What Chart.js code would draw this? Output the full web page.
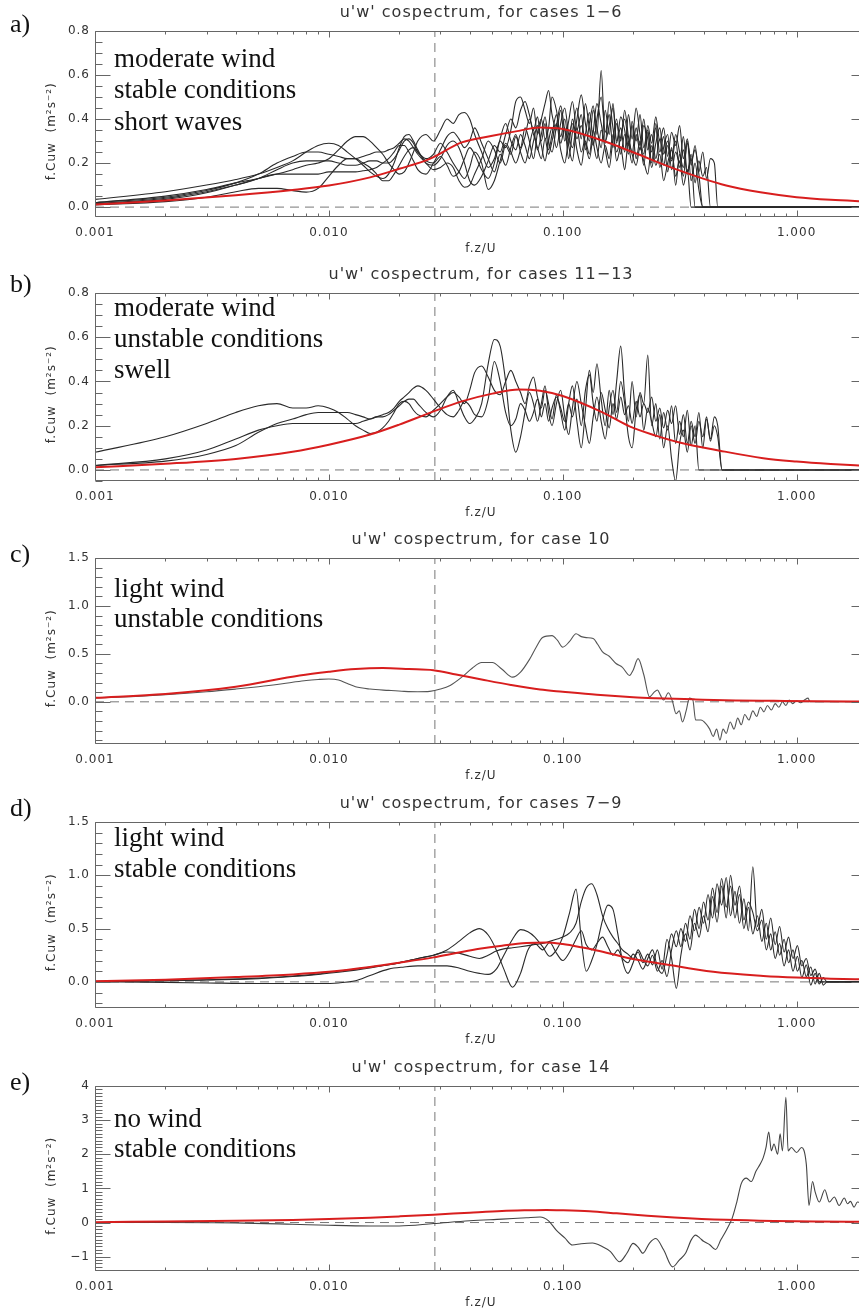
<!DOCTYPE html>
<html>
<head>
<meta charset="utf-8">
<script src="https://cdn.jsdelivr.net/npm/chart.js@4.4.0/dist/chart.umd.min.js"></script>
<style>
  body { margin: 0; width: 859px; height: 1310px; overflow: hidden; background: #fff; position: relative; }
  .panel { position: absolute; left: 0; }
</style>
</head>
<body>
<script>
// frequency of the dashed vertical marker, and axis ticks
const refFreq = 0.0284;
const xTicks = [0.001, 0.01, 0.1, 1];
const yTicksAB = [0, 0.2, 0.4, 0.6, 0.8];
const yTicksCD = [0, 0.5, 1.0, 1.5];
const yTicksE = [-1, 0, 1, 2, 3, 4];

// panels a) and b) share one frequency list
const freqAB = [
  0.001, 0.002, 0.003, 0.004, 0.005, 0.006, 0.007, 0.008, 0.009, 0.010,
  0.011, 0.012, 0.013, 0.014, 0.015, 0.016, 0.017, 0.018, 0.019, 0.020,
  0.021, 0.022, 0.023, 0.024, 0.026, 0.028, 0.030, 0.032, 0.034, 0.036,
  0.038, 0.040, 0.042, 0.045, 0.048, 0.051, 0.054, 0.057, 0.060, 0.063,
  0.066, 0.069, 0.072, 0.075, 0.078, 0.081, 0.084, 0.087, 0.090, 0.094,
  0.098, 0.102, 0.106, 0.110, 0.115, 0.120, 0.125, 0.130, 0.135, 0.140,
  0.146, 0.152, 0.158, 0.164, 0.170, 0.177, 0.184, 0.191, 0.198, 0.206,
  0.214, 0.222, 0.231, 0.240, 0.250, 0.260, 0.270, 0.281, 0.292, 0.304,
  0.316, 0.328, 0.341, 0.354, 0.368, 0.382, 0.397, 0.412, 0.428, 0.445,
  0.460, 0.480, 2.0
];

// a) cases 1-6
const caseA1 = [
  0.035, 0.07, 0.10, 0.125, 0.15, 0.18, 0.21, 0.25, 0.28, 0.29,
  0.28, 0.25, 0.22, 0.19, 0.16, 0.14, 0.13, 0.15, 0.20, 0.27,
  0.32, 0.33, 0.30, 0.26, 0.20, 0.19, 0.22, 0.28, 0.30, 0.27,
  0.20, 0.12, 0.10, 0.14, 0.21, 0.28, 0.25, 0.33, 0.40, 0.36,
  0.44, 0.48, 0.42, 0.35, 0.41, 0.30, 0.38, 0.26, 0.33, 0.42,
  0.29, 0.36, 0.22, 0.34, 0.45, 0.31, 0.47, 0.36, 0.28, 0.40,
  0.50, 0.34, 0.42, 0.27, 0.38, 0.30, 0.44, 0.32, 0.25, 0.36,
  0.28, 0.40, 0.26, 0.33, 0.22, 0.31, 0.19, 0.28, 0.21, 0.30,
  0.18, 0.26, 0.15, 0.22, 0, 0, 0, 0, 0, 0,
  0, 0, 0
];
const caseA2 = [
  0.02, 0.05, 0.08, 0.11, 0.13, 0.15, 0.17, 0.19, 0.20, 0.22,
  0.26, 0.30, 0.32, 0.32, 0.30, 0.27, 0.24, 0.20, 0.17, 0.15,
  0.16, 0.20, 0.25, 0.30, 0.33, 0.30, 0.35, 0.40, 0.38, 0.42,
  0.43, 0.40, 0.33, 0.25, 0.18, 0.22, 0.30, 0.27, 0.35, 0.48,
  0.50, 0.44, 0.38, 0.45, 0.33, 0.40, 0.47, 0.53, 0.42, 0.35,
  0.44, 0.30, 0.39, 0.48, 0.35, 0.42, 0.26, 0.38, 0.46, 0.33,
  0.62, 0.30, 0.37, 0.45, 0.29, 0.41, 0.35, 0.24, 0.39, 0.30,
  0.42, 0.27, 0.35, 0.20, 0.38, 0.25, 0.32, 0.16, 0.27, 0.10,
  0.24, 0.14, 0.30, 0.12, 0.20, 0.08, 0, 0, 0, 0,
  0, 0, 0
];
const caseA3 = [
  0.02, 0.045, 0.075, 0.11, 0.15, 0.20, 0.23, 0.25, 0.25, 0.24,
  0.23, 0.22, 0.22, 0.23, 0.24, 0.25, 0.25, 0.26, 0.27, 0.29,
  0.31, 0.30, 0.27, 0.24, 0.20, 0.17, 0.18, 0.20, 0.18, 0.12,
  0.09, 0.10, 0.15, 0.22, 0.30, 0.26, 0.20, 0.28, 0.24, 0.32,
  0.27, 0.36, 0.30, 0.22, 0.34, 0.40, 0.31, 0.36, 0.50, 0.44,
  0.32, 0.40, 0.28, 0.21, 0.36, 0.25, 0.33, 0.43, 0.30, 0.22,
  0.35, 0.26, 0.18, 0.31, 0.40, 0.24, 0.33, 0.28, 0.37, 0.22,
  0.30, 0.19, 0.34, 0.25, 0.36, 0.18, 0.27, 0.33, 0.17, 0.25,
  0.20, 0.32, 0.16, 0.24, 0.11, 0.21, 0.14, 0.18, 0, 0,
  0, 0, 0
];
const caseA4 = [
  0.015, 0.04, 0.07, 0.10, 0.13, 0.17, 0.20, 0.21, 0.21, 0.21,
  0.20, 0.19, 0.19, 0.20, 0.21, 0.21, 0.20, 0.20, 0.22, 0.26,
  0.30, 0.31, 0.29, 0.25, 0.21, 0.20, 0.23, 0.19, 0.14, 0.16,
  0.22, 0.27, 0.24, 0.17, 0.13, 0.20, 0.31, 0.38, 0.30, 0.26,
  0.33, 0.28, 0.22, 0.30, 0.37, 0.28, 0.21, 0.30, 0.36, 0.27,
  0.38, 0.45, 0.33, 0.27, 0.40, 0.51, 0.38, 0.30, 0.44, 0.36,
  0.27, 0.44, 0.33, 0.47, 0.30, 0.36, 0.25, 0.42, 0.31, 0.45,
  0.33, 0.24, 0.37, 0.29, 0.41, 0.30, 0.36, 0.23, 0.34, 0.28,
  0.37, 0.22, 0.31, 0.19, 0.28, 0.16, 0.25, 0.13, 0.22, 0.20,
  0, 0, 0
];
const caseA5 = [
  0.012, 0.035, 0.065, 0.10, 0.13, 0.15, 0.15, 0.15, 0.15, 0.16,
  0.16, 0.16, 0.16, 0.165, 0.17, 0.18, 0.20, 0.22, 0.25, 0.28,
  0.28, 0.25, 0.21, 0.17, 0.15, 0.20, 0.26, 0.32, 0.34, 0.31,
  0.27, 0.30, 0.36, 0.29, 0.22, 0.16, 0.24, 0.19, 0.27, 0.33,
  0.25, 0.20, 0.28, 0.35, 0.26, 0.33, 0.41, 0.30, 0.25, 0.37,
  0.46, 0.35, 0.28, 0.40, 0.31, 0.37, 0.29, 0.22, 0.34, 0.47,
  0.38, 0.29, 0.48, 0.36, 0.25, 0.32, 0.40, 0.29, 0.20, 0.33,
  0.26, 0.37, 0.31, 0.18, 0.29, 0.36, 0.24, 0.30, 0.22, 0.33,
  0.25, 0.18, 0.29, 0.21, 0.26, 0.15, 0, 0, 0, 0,
  0, 0, 0
];
const caseA6 = [
  0.01, 0.025, 0.045, 0.07, 0.085, 0.085, 0.075, 0.068, 0.085, 0.14,
  0.19, 0.22, 0.22, 0.20, 0.18, 0.15, 0.12, 0.12, 0.15, 0.19,
  0.23, 0.26, 0.27, 0.25, 0.22, 0.24, 0.29, 0.25, 0.20, 0.16,
  0.13, 0.18, 0.25, 0.20, 0.08, 0.12, 0.21, 0.29, 0.25, 0.20,
  0.26, 0.32, 0.40, 0.33, 0.27, 0.22, 0.31, 0.24, 0.30, 0.38,
  0.26, 0.20, 0.31, 0.38, 0.26, 0.19, 0.30, 0.24, 0.35, 0.27,
  0.20, 0.28, 0.22, 0.33, 0.21, 0.27, 0.17, 0.30, 0.24, 0.19,
  0.27, 0.21, 0.15, 0.28, 0.19, 0.24, 0.12, 0.20, 0.26, 0.14,
  0.21, 0.10, 0.17, 0, 0, 0, 0, 0, 0, 0,
  0, 0, 0
];
const modelXA = [0.001, 0.002, 0.004, 0.007, 0.01, 0.015, 0.02, 0.027, 0.037, 0.05, 0.063, 0.08, 0.1, 0.15, 0.2, 0.3, 0.5, 0.7, 1.0, 1.4, 2.0];
const modelYA = [0.012, 0.03, 0.054, 0.078, 0.098, 0.135, 0.174, 0.219, 0.294, 0.324, 0.344, 0.362, 0.355, 0.30, 0.249, 0.175, 0.098, 0.067, 0.045, 0.033, 0.025];

// b) cases 11-13
const caseB1 = [
  0.08, 0.15, 0.21, 0.26, 0.29, 0.30, 0.28, 0.28, 0.29, 0.28,
  0.26, 0.23, 0.20, 0.18, 0.165, 0.17, 0.19, 0.22, 0.26, 0.30,
  0.31, 0.30, 0.27, 0.25, 0.24, 0.27, 0.30, 0.33, 0.35, 0.33,
  0.30, 0.36, 0.44, 0.47, 0.42, 0.36, 0.34, 0.40, 0.45, 0.40,
  0.35, 0.30, 0.38, 0.42, 0.33, 0.28, 0.36, 0.30, 0.23, 0.34,
  0.26, 0.18, 0.30, 0.38, 0.22, 0.10, 0.27, 0.45, 0.35, 0.48,
  0.32, 0.20, 0.36, 0.25, 0.40, 0.56, 0.34, 0.22, 0.40, 0.24,
  0.35, 0.30, 0.52, 0.20, 0.30, 0.14, 0.26, 0.18, 0.29, 0.12,
  0.22, 0.15, 0.27, 0.11, 0.20, 0, 0, 0, 0, 0,
  0, 0, 0
];
const caseB2 = [
  0.02, 0.05, 0.09, 0.14, 0.18, 0.20, 0.21, 0.21, 0.21, 0.21,
  0.21, 0.21, 0.21, 0.22, 0.23, 0.24, 0.24, 0.25, 0.27, 0.29,
  0.31, 0.32, 0.32, 0.30, 0.26, 0.24, 0.27, 0.33, 0.36, 0.30,
  0.24, 0.21, 0.23, 0.30, 0.48, 0.59, 0.56, 0.40, 0.18, 0.08,
  0.15, 0.26, 0.35, 0.30, 0.22, 0.30, 0.38, 0.26, 0.20, 0.30,
  0.36, 0.24, 0.16, 0.28, 0.40, 0.30, 0.20, 0.12, 0.24, 0.33,
  0.22, 0.14, 0.28, 0.36, 0.26, 0.40, 0.30, 0.15, 0.10, 0.27,
  0.34, 0.18, 0.28, 0.22, 0.15, 0.25, 0.10, 0.20, 0.05, -0.05,
  0.12, 0.18, 0.08, 0.20, 0.12, 0.22, 0.15, 0.24, 0.13, 0.20,
  0.15, 0, 0
];
const caseB3 = [
  0.02, 0.04, 0.07, 0.11, 0.17, 0.21, 0.23, 0.25, 0.26, 0.26,
  0.26, 0.26, 0.25, 0.24, 0.23, 0.24, 0.25, 0.26, 0.28, 0.31,
  0.33, 0.35, 0.37, 0.38, 0.36, 0.32, 0.28, 0.25, 0.24, 0.27,
  0.31, 0.29, 0.25, 0.24, 0.32, 0.49, 0.40, 0.26, 0.20, 0.23,
  0.30, 0.27, 0.22, 0.26, 0.32, 0.24, 0.30, 0.22, 0.28, 0.33,
  0.28, 0.22, 0.30, 0.24, 0.32, 0.20, 0.36, 0.43, 0.30, 0.22,
  0.35, 0.27, 0.19, 0.30, 0.23, 0.33, 0.25, 0.29, 0.21, 0.31,
  0.24, 0.30, 0.26, 0.33, 0.22, 0.28, 0.19, 0.27, 0.21, 0.29,
  0.16, 0.25, 0.12, 0.22, 0.15, 0.26, 0.10, 0.23, 0.14, 0.24,
  0.20, 0, 0
];
const modelXB = [0.001, 0.002, 0.004, 0.007, 0.01, 0.015, 0.02, 0.027, 0.037, 0.05, 0.065, 0.08, 0.1, 0.148, 0.193, 0.25, 0.316, 0.47, 0.72, 1.0, 1.4, 2.0];
const modelYB = [0.012, 0.028, 0.05, 0.082, 0.114, 0.16, 0.205, 0.258, 0.31, 0.345, 0.364, 0.358, 0.334, 0.26, 0.197, 0.155, 0.124, 0.087, 0.053, 0.038, 0.027, 0.018];

// c) case 10
const freqC = [
  0.001, 0.0015, 0.002, 0.003, 0.004, 0.005, 0.006, 0.007, 0.008, 0.009,
  0.010, 0.011, 0.012, 0.013, 0.015, 0.018, 0.021, 0.024, 0.027, 0.030,
  0.033, 0.037, 0.041, 0.045, 0.050, 0.055, 0.061, 0.066, 0.072, 0.077,
  0.082, 0.090, 0.095, 0.100, 0.107, 0.114, 0.120, 0.126, 0.135, 0.141,
  0.148, 0.158, 0.169, 0.180, 0.193, 0.200, 0.210, 0.222, 0.235, 0.245,
  0.254, 0.262, 0.270, 0.283, 0.295, 0.305, 0.315, 0.325, 0.337, 0.348,
  0.360, 0.370, 0.390, 0.410, 0.425, 0.440, 0.455, 0.470, 0.485, 0.500,
  0.520, 0.540, 0.560, 0.580, 0.600, 0.625, 0.650, 0.675, 0.700, 0.725,
  0.750, 0.780, 0.810, 0.840, 0.870, 0.900, 0.930, 0.960, 1.000, 1.040,
  1.080, 1.120, 1.140, 2.0
];
const caseC = [
  0.041, 0.057, 0.074, 0.105, 0.133, 0.157, 0.18, 0.204, 0.223, 0.233,
  0.238, 0.228, 0.19, 0.157, 0.133, 0.119, 0.109, 0.105, 0.109, 0.133,
  0.171, 0.257, 0.35, 0.41, 0.41, 0.34, 0.257, 0.31, 0.44, 0.57,
  0.67, 0.69, 0.64, 0.57, 0.63, 0.71, 0.68, 0.67, 0.66, 0.60,
  0.52, 0.475, 0.40, 0.36, 0.275, 0.33, 0.45, 0.285, 0.052, 0.095,
  0.124, 0.067, 0.019, 0.095, 0.0, -0.124, -0.095, -0.21, -0.095, 0.038,
  0.019, -0.19, -0.19, -0.23, -0.285, -0.36, -0.285, -0.40, -0.285, -0.33,
  -0.21, -0.285, -0.17, -0.24, -0.133, -0.19, -0.095, -0.152, -0.057, -0.105,
  -0.038, -0.086, -0.019, -0.057, 0.0, -0.038, 0.019, -0.019, 0.01, -0.01,
  0.019, 0.038, 0, 0
];
const modelXC = [0.001, 0.002, 0.004, 0.0075, 0.01, 0.013, 0.017, 0.022, 0.028, 0.035, 0.045, 0.06, 0.08, 0.1, 0.14, 0.2, 0.25, 0.37, 0.55, 0.8, 1.2, 2.0];
const modelYC = [0.042, 0.081, 0.157, 0.275, 0.314, 0.342, 0.352, 0.342, 0.33, 0.285, 0.233, 0.176, 0.128, 0.105, 0.073, 0.048, 0.038, 0.025, 0.014, 0.01, 0.006, 0.004];

// d) cases 7-9
const freqD = [
  0.001, 0.002, 0.003, 0.005, 0.007, 0.009, 0.011, 0.013, 0.015, 0.018,
  0.021, 0.024, 0.028, 0.032, 0.036, 0.040, 0.044, 0.048, 0.052, 0.056,
  0.061, 0.066, 0.071, 0.076, 0.082, 0.088, 0.094, 0.100, 0.107, 0.114,
  0.120, 0.126, 0.133, 0.140, 0.148, 0.156, 0.164, 0.172, 0.180, 0.190,
  0.200, 0.210, 0.220, 0.231, 0.242, 0.254, 0.266, 0.279, 0.292, 0.306,
  0.320, 0.335, 0.350, 0.366, 0.383, 0.400, 0.418, 0.437, 0.457, 0.478,
  0.500, 0.522, 0.545, 0.570, 0.595, 0.622, 0.650, 0.680, 0.710, 0.742,
  0.775, 0.810, 0.846, 0.884, 0.924, 0.965, 1.008, 1.053, 1.100, 1.150,
  1.200, 1.250, 1.300, 1.350, 2.0
];
const caseD1 = [
  0.005, 0.012, 0.02, 0.035, 0.055, 0.075, 0.1, 0.12, 0.14, 0.16,
  0.19, 0.22, 0.25, 0.30, 0.38, 0.46, 0.50, 0.44, 0.30, 0.12,
  -0.05, 0.08, 0.30, 0.36, 0.30, 0.37, 0.27, 0.20, 0.28, 0.40,
  0.48, 0.35, 0.30, 0.36, 0.42, 0.33, 0.25, 0.30, 0.22, 0.18,
  0.26, 0.20, 0.12, 0.22, 0.30, 0.14, 0.08, 0.25, 0.45, 0.33,
  0.50, 0.38, 0.62, 0.48, 0.70, 0.55, 0.82, 0.60, 0.92, 0.72,
  0.98, 0.62, 0.85, 0.55, 0.78, 0.48, 1.08, 0.52, 0.68, 0.40,
  0.60, 0.35, 0.52, 0.28, 0.42, 0.22, 0.34, 0.15, 0.22, 0.06,
  0.12, 0, 0, 0, 0
];
const caseD2 = [
  0.0, -0.005, -0.01, -0.015, -0.015, -0.015, -0.01, 0.01, 0.06, 0.12,
  0.14, 0.15, 0.15, 0.15, 0.13, 0.10, 0.08, 0.07, 0.12, 0.25,
  0.40, 0.49, 0.47, 0.42, 0.33, 0.24, 0.30, 0.42, 0.65, 0.87,
  0.40, 0.10, 0.20, 0.35, 0.58, 0.72, 0.68, 0.45, 0.20, 0.08,
  0.18, 0.30, 0.22, 0.15, 0.25, 0.10, 0.20, 0.05, 0.30, 0.48,
  0.33, 0.55, 0.40, 0.68, 0.50, 0.75, 0.58, 0.88, 0.65, 0.97,
  0.70, 0.90, 0.60, 0.82, 0.50, 0.70, 0.45, 0.62, 0.38, 0.55,
  0.30, 0.47, 0.25, 0.40, 0.18, 0.30, 0.10, 0.20, 0.05, 0.14,
  -0.02, 0.08, -0.03, 0.0, 0
];
const caseD3 = [
  0.003, 0.01, 0.018, 0.03, 0.05, 0.07, 0.09, 0.11, 0.13, 0.16,
  0.19, 0.22, 0.25, 0.28, 0.27, 0.24, 0.22, 0.25, 0.29, 0.31,
  0.32, 0.33, 0.34, 0.35, 0.36, 0.38, 0.40, 0.42, 0.46, 0.55,
  0.75, 0.88, 0.92, 0.82, 0.62, 0.50, 0.42, 0.36, 0.30, 0.26,
  0.22, 0.28, 0.18, 0.26, 0.16, 0.30, 0.12, 0.40, 0.22, -0.06,
  0.25, 0.45, 0.30, 0.55, 0.42, 0.62, 0.47, 0.80, 0.56, 0.90,
  0.60, 1.00, 0.72, 0.90, 0.58, 0.75, 0.65, 0.48, 0.58, 0.30,
  0.45, 0.22, 0.36, 0.15, 0.30, 0.10, 0.24, 0.04, 0.16, -0.03,
  0.08, -0.02, 0.04, 0, 0
];
const modelXD = [0.001, 0.002, 0.004, 0.007, 0.01, 0.015, 0.02, 0.028, 0.035, 0.044, 0.055, 0.07, 0.085, 0.1, 0.12, 0.14, 0.19, 0.27, 0.44, 0.72, 1.0, 1.4, 2.0];
const modelYD = [0.007, 0.02, 0.045, 0.07, 0.094, 0.14, 0.18, 0.23, 0.27, 0.31, 0.34, 0.365, 0.37, 0.355, 0.325, 0.295, 0.225, 0.168, 0.094, 0.056, 0.04, 0.03, 0.024];

// e) case 14
const freqE = [
  0.001, 0.002, 0.004, 0.007, 0.010, 0.015, 0.020, 0.028, 0.040, 0.055,
  0.070, 0.080, 0.087, 0.094, 0.102, 0.110, 0.120, 0.134, 0.148, 0.160,
  0.175, 0.188, 0.200, 0.210, 0.220, 0.235, 0.250, 0.270, 0.295, 0.315,
  0.335, 0.355, 0.370, 0.385, 0.400, 0.425, 0.450, 0.475, 0.500, 0.530,
  0.555, 0.580, 0.610, 0.640, 0.670, 0.700, 0.720, 0.740, 0.760, 0.780,
  0.800, 0.830, 0.850, 0.870, 0.900, 0.920, 0.950, 1.000, 1.050, 1.100,
  1.130, 1.170, 1.200, 1.250, 1.320, 1.380, 1.450, 1.520, 1.600, 1.650,
  1.700, 1.760, 1.820, 2.0
];
const caseE = [
  0.0, 0.0, -0.01, -0.05, -0.08, -0.1, -0.1, -0.03, 0.05, 0.1,
  0.14, 0.16, 0.05, -0.23, -0.45, -0.66, -0.62, -0.6, -0.71, -0.85,
  -1.15, -0.9, -0.61, -0.72, -0.9, -0.6, -0.47, -0.8, -1.3, -1.1,
  -0.9, -0.5, -0.37, -0.45, -0.55, -0.65, -0.79, -0.5, -0.23, 0.12,
  0.6, 1.14, 1.3, 1.2, 1.5, 1.72, 1.9, 2.2, 2.65, 2.1,
  2.3, 2.0, 2.6, 2.1, 3.67, 2.1, 2.2, 2.05, 2.2, 1.72,
  0.5, 1.2, 0.9, 0.6, 0.96, 0.6, 0.75, 0.5, 0.72, 0.55,
  0.62, 0.45, 0.6, 0.5
];
const modelXE = [0.001, 0.002, 0.004, 0.007, 0.01, 0.015, 0.02, 0.028, 0.04, 0.055, 0.07, 0.085, 0.1, 0.13, 0.17, 0.23, 0.3, 0.5, 0.8, 1.2, 2.0];
const modelYE = [0.01, 0.03, 0.05, 0.075, 0.1, 0.14, 0.18, 0.23, 0.29, 0.34, 0.36, 0.37, 0.36, 0.33, 0.27, 0.2, 0.15, 0.08, 0.045, 0.03, 0.02];

const notesA = ['moderate wind', 'stable conditions', 'short waves'];
const notesB = ['moderate wind', 'unstable conditions', 'swell'];
const notesC = ['light wind', 'unstable conditions'];
const notesD = ['light wind', 'stable conditions'];
const notesE = ['no wind', 'stable conditions'];

const panels = [
  { top: 31, bottom: 217, title: "u'w' cospectrum, for cases 1\u22126", yMin: -0.045, yMax: 0.8,
    yTicks: yTicksAB, digits: 1, major: 0.2, minor: 0.05, freq: freqAB,
    cases: [caseA1, caseA2, caseA3, caseA4, caseA5, caseA6], modelX: modelXA, modelY: modelYA,
    letter: 'a)', letterDy: 1, notes: notesA, noteDy: [36, 67, 99] },
  { top: 293, bottom: 481, title: "u'w' cospectrum, for cases 11\u221213", yMin: -0.05, yMax: 0.8,
    yTicks: yTicksAB, digits: 1, major: 0.2, minor: 0.05, freq: freqAB,
    cases: [caseB1, caseB2, caseB3], modelX: modelXB, modelY: modelYB,
    letter: 'b)', letterDy: -1, notes: notesB, noteDy: [23, 54, 85] },
  { top: 558, bottom: 744, title: "u'w' cospectrum, for case 10", yMin: -0.44, yMax: 1.5,
    yTicks: yTicksCD, digits: 1, major: 0.5, minor: 0.1, freq: freqC,
    cases: [caseC], modelX: modelXC, modelY: modelYC, caseColor: '#555',
    letter: 'c)', letterDy: 4, notes: notesC, noteDy: [39, 69] },
  { top: 822, bottom: 1008, title: "u'w' cospectrum, for cases 7\u22129", yMin: -0.245, yMax: 1.5,
    yTicks: yTicksCD, digits: 1, major: 0.5, minor: 0.1, freq: freqD,
    cases: [caseD1, caseD2, caseD3], modelX: modelXD, modelY: modelYD,
    letter: 'd)', letterDy: -6, notes: notesD, noteDy: [24, 55] },
  { top: 1086, bottom: 1271, title: "u'w' cospectrum, for case 14", yMin: -1.42, yMax: 4,
    yTicks: yTicksE, digits: 0, major: 1, minor: 0.1, freq: freqE,
    cases: [caseE], modelX: modelXE, modelY: modelYE, caseColor: '#444',
    letter: 'e)', letterDy: 4, notes: notesE, noteDy: [41, 71] }
];

Chart.defaults.font.family = '"DejaVu Sans", sans-serif';
Chart.defaults.color = '#333';

// IDL-style box with inward ticks, plus the panel letter and the notes
const idlFrame = {
  id: 'idlFrame',
  beforeLayout(chart) {
    chart.ctx.letterSpacing = '1px';
  },
  beforeDraw(chart) {
    chart.ctx.letterSpacing = '1px';
  },
  afterDatasetsDraw(chart, args, opts) {
    const { ctx, chartArea: a, scales: { x, y } } = chart;
    const L = Math.round(a.left) + 0.5, R = Math.round(a.right) - 0.5;
    const T = Math.round(a.top) + 0.5, B = Math.round(a.bottom) - 0.5;
    ctx.save();
    ctx.strokeStyle = '#666';
    ctx.lineWidth = 1;
    ctx.beginPath();
    ctx.rect(L, T, R - L, B - T);
    for (let d = -3; d <= 0; d++) {
      for (let m = 1; m <= 9; m++) {
        const v = m * Math.pow(10, d);
        if (v < x.min || v > x.max) continue;
        const px = Math.round(x.getPixelForValue(v)) + 0.5;
        const len = m === 1 ? 6 : 3;
        ctx.moveTo(px, B); ctx.lineTo(px, B - len);
        ctx.moveTo(px, T); ctx.lineTo(px, T + len);
      }
    }
    const n0 = Math.ceil(y.min / opts.minor - 1e-6);
    const n1 = Math.floor(y.max / opts.minor + 1e-6);
    for (let n = n0; n <= n1; n++) {
      const v = n * opts.minor;
      const r = v / opts.major;
      const len = Math.abs(r - Math.round(r)) < 1e-6 ? 15 : 7;
      const py = Math.round(y.getPixelForValue(v)) + 0.5;
      ctx.moveTo(L, py); ctx.lineTo(L + len, py);
      ctx.moveTo(R, py); ctx.lineTo(R - len, py);
    }
    ctx.stroke();
    ctx.restore();
  },
  afterDraw(chart, args, opts) {
    const { ctx, chartArea: a } = chart;
    ctx.save();
    ctx.letterSpacing = '0px';
    ctx.fillStyle = '#111';
    ctx.textBaseline = 'alphabetic';
    ctx.textAlign = 'left';
    ctx.font = '26px "Liberation Serif", serif';
    ctx.fillText(opts.letter, 10, a.top + opts.letterDy);
    ctx.font = '27px "Liberation Serif", serif';
    opts.notes.forEach((t, i) => ctx.fillText(t, 114, a.top + opts.noteDy[i]));
    ctx.restore();
  }
};

function pairs(xs, ys) {
  return ys.map((v, i) => ({ x: xs[i], y: v }));
}

panels.forEach(p => {
  const h = p.bottom - p.top + 71;
  const div = document.createElement('div');
  div.className = 'panel';
  div.style.top = (p.top - 31) + 'px';
  const cv = document.createElement('canvas');
  cv.width = 868;
  cv.height = h;
  cv.style.width = '868px';
  cv.style.height = h + 'px';
  div.appendChild(cv);
  document.body.appendChild(div);

  const datasets = [{
    data: pairs(p.modelX, p.modelY),
    borderColor: '#d81e1e', borderWidth: 2, cubicInterpolationMode: 'monotone', order: 0
  }];
  p.cases.forEach(c => datasets.push({
    data: pairs(p.freq, c),
    borderColor: p.caseColor || '#2a2a2a', borderWidth: 1.1, cubicInterpolationMode: 'monotone', order: 1
  }));
  datasets.push({
    data: [{ x: 0.001, y: 0 }, { x: 2, y: 0 }],
    borderColor: '#777', borderWidth: 1, borderDash: [9, 6], order: 2
  });
  datasets.push({
    data: [{ x: refFreq, y: p.yMin }, { x: refFreq, y: p.yMax }],
    borderColor: '#777', borderWidth: 1, borderDash: [9, 6], order: 2
  });

  new Chart(cv, {
    type: 'line',
    data: { datasets },
    options: {
      responsive: false,
      animation: false,
      devicePixelRatio: 1,
      events: [],
      layout: { padding: { left: 0, right: 1, top: 0, bottom: 0 } },
      elements: { point: { radius: 0 }, line: { borderJoinStyle: 'round' } },
      plugins: {
        legend: { display: false },
        tooltip: { enabled: false },
        title: {
          display: true, text: p.title, fullSize: false, color: '#333',
          font: { size: 16, weight: 'normal', lineHeight: '16px' },
          padding: { top: 5, bottom: 10 }
        },
        idlFrame: { minor: p.minor, major: p.major, letter: p.letter, letterDy: p.letterDy, notes: p.notes, noteDy: p.noteDy }
      },
      scales: {
        x: {
          type: 'logarithmic', min: 0.001, max: 2,
          grid: { display: false, drawTicks: false },
          border: { display: false },
          afterBuildTicks: s => { s.ticks = xTicks.map(v => ({ value: v })); },
          afterFit: s => { s.height = 40; },
          ticks: { autoSkip: false, maxRotation: 0, padding: 9, font: { size: 12 }, callback: v => Number(v).toFixed(3) },
          title: { display: true, text: 'f.z/U', font: { size: 12 }, padding: { top: 0, bottom: 1 } }
        },
        y: {
          type: 'linear', min: p.yMin, max: p.yMax,
          grid: { display: false, drawTicks: false },
          border: { display: false },
          afterBuildTicks: s => { s.ticks = p.yTicks.map(v => ({ value: v })); },
          afterFit: s => { s.width = 95; },
          ticks: {
            autoSkip: false, padding: 5, font: { size: 12 },
            callback: v => {
              const s = Math.abs(v).toFixed(p.digits);
              return v < 0 ? '\u2212' + s : s;
            }
          },
          title: { display: true, text: 'f.Cuw  (m\u00B2s\u207B\u00B2)   ', font: { size: 12 }, padding: { top: 45, bottom: 0 } }
        }
      }
    },
    plugins: [idlFrame]
  });
});
</script>
</body>
</html>
